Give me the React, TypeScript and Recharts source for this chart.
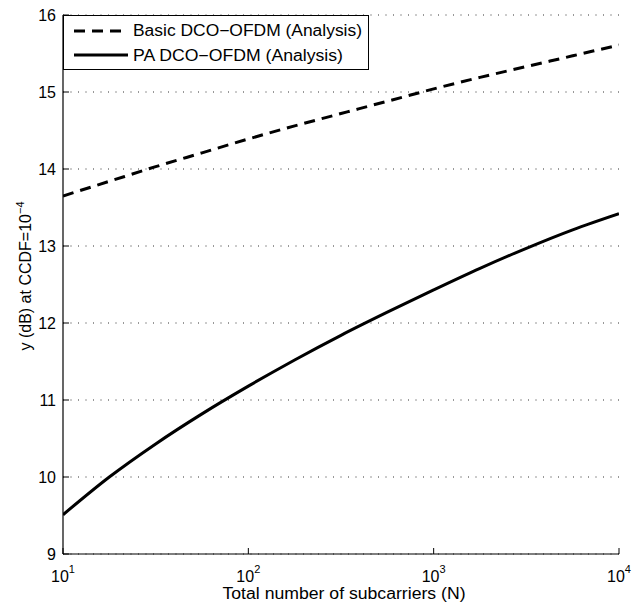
import React from 'react';
import { LineChart, Line, XAxis, YAxis, CartesianGrid, Legend, Customized } from 'recharts';

const FONT = '"Liberation Sans", Arial, Helvetica, sans-serif';

// Total number of subcarriers N (log axis)
const nValues = [10, 17.78, 31.62, 56.23, 100, 177.8, 316.2, 562.3, 1000, 1778, 3162, 5623, 10000];
// Basic DCO-OFDM (Analysis)
const basicValues = [13.65, 13.84, 14.03, 14.21, 14.39, 14.56, 14.72, 14.88, 15.04, 15.19, 15.33, 15.47, 15.61];
// PA DCO-OFDM (Analysis)
const paValues = [9.51, 10.0, 10.43, 10.82, 11.18, 11.52, 11.84, 12.14, 12.43, 12.71, 12.97, 13.21, 13.42];

const xMajorTicks = [10, 100, 1000, 10000];
const xTickExponents = ['1', '2', '3', '4'];
const xMinorTicks = [20, 30, 40, 50, 60, 70, 80, 90, 200, 300, 400, 500, 600, 700, 800, 900, 2000, 3000, 4000, 5000, 6000, 7000, 8000, 9000];
const yTicks = [9, 10, 11, 12, 13, 14, 15, 16];

const seriesNames = ['Basic DCO\u2212OFDM (Analysis)', 'PA DCO\u2212OFDM (Analysis)'];
const xLabel = 'Total number of subcarriers (N)';
const yLabelMain = 'y (dB) at CCDF=10';
const yLabelSup = '\u22124';

const data = nValues.map((n, i) => ({ n, basic: basicValues[i], pa: paValues[i] }));

const Empty = () => <g />;

const XTick = (props: any) => {
  const { x, y, payload } = props;
  const idx = xMajorTicks.indexOf(payload.value);
  return (
    <text x={x} y={y + 28} textAnchor="middle" fontSize={16} fontFamily={FONT} fill="#000">
      <tspan>10</tspan>
      <tspan dy={-9} fontSize={11}>{xTickExponents[idx]}</tspan>
    </text>
  );
};

const AxisTitles = () => (
  <g>
    <text x={344} y={599} textAnchor="middle" fontSize={16} fontFamily={FONT} fill="#000" textLength={243} lengthAdjust="spacingAndGlyphs">
      {xLabel}
    </text>
    <text x={31} y={276} transform="rotate(-90, 31, 276)" textAnchor="middle" fontSize={16} fontFamily={FONT} fill="#000">
      <tspan>{yLabelMain}</tspan>
      <tspan dy={-7} fontSize={11}>{yLabelSup}</tspan>
    </text>
  </g>
);

const LegendBox = () => (
  <svg width={307} height={56} style={{ display: 'block' }}>
    <rect x={0.5} y={0.5} width={305} height={54} fill="#fff" stroke="#000" strokeWidth={1} />
    <line x1={11} x2={65} y1={16} y2={16} stroke="#000" strokeWidth={3} strokeDasharray="11 7" />
    <text x={70} y={21} fontSize={16} fontFamily={FONT} fill="#000" textLength={229} lengthAdjust="spacingAndGlyphs">
      {seriesNames[0]}
    </text>
    <line x1={11} x2={65} y1={40} y2={40} stroke="#000" strokeWidth={3} />
    <text x={70} y={46} fontSize={16} fontFamily={FONT} fill="#000" textLength={210} lengthAdjust="spacingAndGlyphs">
      {seriesNames[1]}
    </text>
  </svg>
);

export default function App() {
  return (
    <div style={{ position: 'absolute', left: 0, top: 0, width: 633, height: 605, background: '#fff' }}>
      <LineChart width={633} height={605} data={data} margin={{ top: 15, right: 14, bottom: 0, left: 0 }}>
        <CartesianGrid xAxisId="main" yAxisId="left" vertical={false} stroke="#333" strokeDasharray="1 6.5" />
        <XAxis
          xAxisId="minor"
          dataKey="n"
          type="number"
          scale="log"
          domain={[10, 10000]}
          allowDataOverflow
          ticks={xMinorTicks}
          interval={0}
          height={0}
          orientation="bottom"
          axisLine={false}
          tickSize={-3}
          tickLine={{ stroke: '#000' }}
          tick={Empty}
        />
        <XAxis
          xAxisId="main"
          dataKey="n"
          type="number"
          scale="log"
          domain={[10, 10000]}
          allowDataOverflow
          ticks={xMajorTicks}
          interval={0}
          height={51}
          orientation="bottom"
          axisLine={{ stroke: '#000', strokeWidth: 1.2 }}
          tickSize={-6}
          tickMargin={6}
          tickLine={{ stroke: '#000' }}
          tick={XTick}
        />
        <XAxis
          xAxisId="topMajor"
          dataKey="n"
          type="number"
          scale="log"
          domain={[10, 10000]}
          allowDataOverflow
          ticks={xMajorTicks}
          interval={0}
          height={0}
          orientation="top"
          mirror
          axisLine={{ stroke: '#000', strokeWidth: 1.2 }}
          tickSize={6}
          tickLine={{ stroke: '#000' }}
          tick={Empty}
        />
        <XAxis
          xAxisId="topMinor"
          dataKey="n"
          type="number"
          scale="log"
          domain={[10, 10000]}
          allowDataOverflow
          ticks={xMinorTicks}
          interval={0}
          height={0}
          orientation="top"
          mirror
          axisLine={false}
          tickSize={3}
          tickLine={{ stroke: '#000' }}
          tick={Empty}
        />
        <YAxis
          yAxisId="left"
          type="number"
          domain={[9, 16]}
          allowDataOverflow
          ticks={yTicks}
          interval={0}
          width={63}
          orientation="left"
          axisLine={{ stroke: '#000', strokeWidth: 1.2 }}
          tickSize={-6}
          tickMargin={13}
          tickLine={{ stroke: '#000' }}
          tick={{ fontSize: 16, fontFamily: FONT, fill: '#000' }}
        />
        <YAxis
          yAxisId="right"
          type="number"
          domain={[9, 16]}
          allowDataOverflow
          ticks={yTicks}
          interval={0}
          width={0}
          orientation="right"
          mirror
          axisLine={{ stroke: '#000', strokeWidth: 1.2 }}
          tickSize={6}
          tickLine={{ stroke: '#000' }}
          tick={Empty}
        />
        <Line
          xAxisId="main"
          yAxisId="left"
          type="monotone"
          dataKey="basic"
          name={seriesNames[0]}
          stroke="#000"
          strokeWidth={3}
          strokeDasharray="11 7"
          dot={false}
          activeDot={false}
          isAnimationActive={false}
        />
        <Line
          xAxisId="main"
          yAxisId="left"
          type="monotone"
          dataKey="pa"
          name={seriesNames[1]}
          stroke="#000"
          strokeWidth={3}
          dot={false}
          activeDot={false}
          isAnimationActive={false}
        />
        <Legend
          layout="horizontal"
          verticalAlign="middle"
          align="center"
          content={() => <LegendBox />}
          wrapperStyle={{ position: 'absolute', left: 63, top: 15, width: 307, height: 56 }}
        />
        <Customized component={AxisTitles} />
      </LineChart>
    </div>
  );
}
